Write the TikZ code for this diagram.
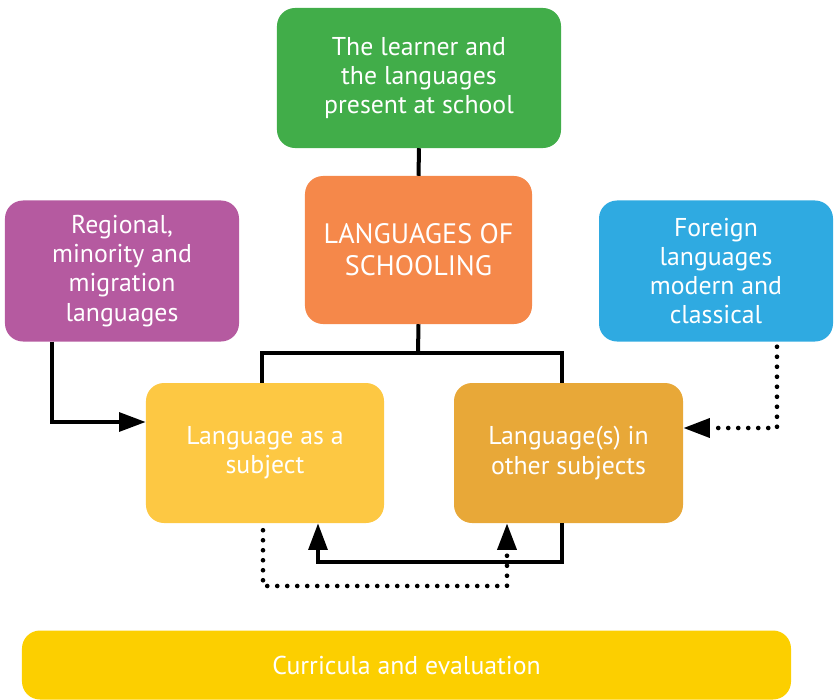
\documentclass[tikz,border=0pt]{standalone}
\usepackage{fontspec}
\setmainfont{PT Sans}
\usetikzlibrary{arrows.meta}
\definecolor{learnergreen}{HTML}{41AD49}
\definecolor{schoolorange}{HTML}{F5884A}
\definecolor{regionpurple}{HTML}{B55AA0}
\definecolor{foreignblue}{HTML}{2FAAE1}
\definecolor{subjectyellow}{HTML}{FDC843}
\definecolor{otherochre}{HTML}{E8A838}
\definecolor{curryellow}{HTML}{FCCF00}
\tikzset{
  box/.style={rectangle,rounded corners=0.54cm,inner sep=0pt,align=center,
    text=white,font=\fontsize{22}{24.9}\selectfont},
  link/.style={line width=0.12cm},
  dotlink/.style={line width=0.14cm,line cap=round,dash pattern=on 0pt off 0.3cm},
  tip/.style={-{Triangle[length=0.8cm,width=0.56cm]}},
}

\begin{document}
\begin{tikzpicture}[x=0.03cm,y=-0.03cm]
    \useasboundingbox (0,0) rectangle (837,700);
    \node[box,fill=learnergreen,minimum width=8.52cm,minimum height=4.2cm] (learner) at (419,78)
        {The learner and\\the languages\\present at school};
    \node[box,fill=schoolorange,minimum width=6.81cm,minimum height=4.44cm,
          font=\fontsize{24}{27.3}\selectfont] (schooling) at (418.5,250)
        {LANGUAGES OF\\SCHOOLING};
    \node[box,fill=regionpurple,minimum width=7.02cm,minimum height=4.23cm] (regional) at (122,271)
        {Regional,\\minority and\\migration\\languages};
    \node[box,fill=foreignblue,minimum width=7.02cm,minimum height=4.23cm] (foreign) at (716,271)
        {Foreign\\languages\\modern and\\classical};
    \node[box,fill=subjectyellow,minimum width=7.14cm,minimum height=4.2cm] (subject) at (265,453)
        {Language as a\\subject};
    \node[box,fill=otherochre,minimum width=6.87cm,minimum height=4.2cm] (other) at (568.5,453)
        {Language(s) in\\other subjects};
    \node[box,fill=curryellow,minimum width=23.07cm,minimum height=2.07cm] (curricula) at (406.5,665)
        {Curricula and evaluation};

    \coordinate (split) at (418,353);
    \draw[link] (learner.south) -- (schooling.north);
    \draw[link] (schooling.south) -- (split);
    \draw[link] (subject.north -| 262,0) |- (split) -| (other.north -| 562,0);
    \draw[link,tip] (regional.south -| 52,0) |- (subject.west |- 0,422);
    \draw[dotlink,tip] (foreign.south -| 777,0) ++(0,5) |- (other.east |- 0,428);
    \draw[link,tip] (other.south -| 562,0) |- (318,562) -- (subject.south -| 318,0);
    \draw[dotlink,tip] (subject.south -| 263,0) ++(0,7) |- (507,586) -- (other.south -| 507,0);
\end{tikzpicture}
\end{document}
